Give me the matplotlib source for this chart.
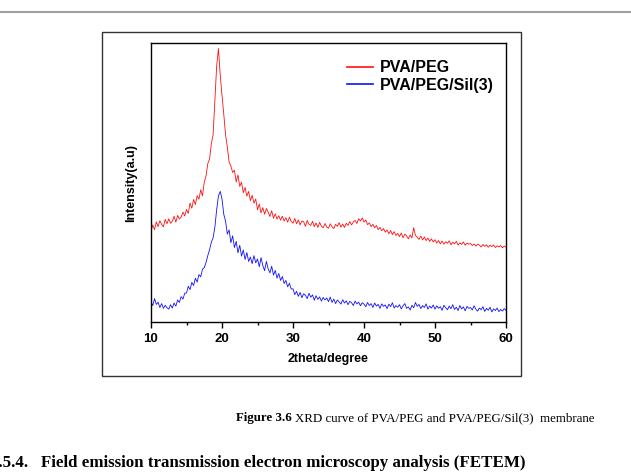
import numpy as np
import matplotlib
matplotlib.use("Agg")
import matplotlib.pyplot as plt
from matplotlib.patches import Rectangle
from matplotlib.lines import Line2D

# 2theta scan, 0.25 degree step
theta = np.arange(10.0, 60.001, 0.25)

pva_peg = [
    32.5, 34.8, 33.1, 35.9, 34.2, 36.3, 35.0, 34.1, 36.8, 35.2, 37.0, 35.4, 36.1, 37.9, 35.8, 38.2, 36.9, 37.6, 39.4, 38.0,
    40.3, 38.9, 42.6, 40.8, 43.9, 42.1, 45.3, 44.0, 47.4, 45.2, 50.1, 52.3, 56.8, 58.4, 63.9, 67.2, 79.5, 91.8, 98.0, 88.6,
    81.2, 74.5, 67.1, 62.8, 57.3, 55.9, 53.6, 54.4, 50.2, 52.7, 48.6, 50.1, 46.3, 48.2, 45.1, 46.8, 43.5, 45.4, 42.6, 44.1,
    40.2, 42.3, 39.1, 41.0, 38.6, 40.7, 39.4, 37.8, 39.9, 37.2, 38.8, 36.9, 38.1, 36.5, 37.9, 36.2, 37.4, 35.8, 37.6, 36.0,
    35.4, 37.1, 35.2, 36.6, 34.8, 36.2, 35.9, 34.3, 36.4, 35.0, 34.6, 36.1, 34.2, 35.5, 33.9, 35.7, 34.4, 33.8, 35.3, 34.0,
    33.6, 35.2, 34.1, 33.5, 35.0, 34.3, 35.6, 34.0, 35.1, 33.9, 35.4, 34.6, 36.0, 34.8, 35.9, 36.4, 35.3, 37.0, 36.2, 37.3,
    35.8, 36.6, 34.9, 35.5, 34.2, 35.0, 33.8, 34.6, 33.1, 33.9, 32.7, 33.5, 32.2, 33.0, 31.6, 32.8, 31.3, 32.4, 31.0, 31.8,
    30.6, 31.9, 30.2, 31.5, 30.9, 29.8, 31.2, 30.1, 33.8, 31.0, 30.4, 29.6, 30.8, 29.4, 30.5, 29.2, 30.1, 28.9, 29.8, 28.7,
    29.5, 28.3, 29.2, 28.0, 29.0, 27.9, 28.8, 28.2, 29.1, 27.7, 28.6, 28.0, 28.9, 27.6, 28.4, 27.8, 28.7, 27.5, 28.3, 27.9,
    28.2, 27.4, 28.0, 27.2, 27.9, 27.6, 26.9, 27.8, 27.1, 27.7, 26.8, 27.5, 27.0, 27.6, 26.7, 27.3, 26.9, 27.4, 26.6, 27.2, 26.8,
]

pva_peg_sil3 = [
    7.2, 5.9, 8.4, 6.3, 7.1, 5.2, 6.6, 4.9, 6.0, 5.1, 4.6, 6.2, 5.0, 6.8, 5.7, 7.9, 7.0, 9.1, 8.2, 10.3,
    10.4, 12.8, 11.6, 14.2, 13.1, 15.7, 14.3, 17.0, 16.2, 18.9, 19.5, 21.3, 23.8, 25.9, 28.6, 30.2, 34.1, 40.3, 45.2, 46.8,
    44.1, 38.6, 36.2, 31.5, 33.0, 28.4, 30.9, 26.7, 28.9, 24.8, 27.5, 23.6, 25.8, 22.4, 24.9, 21.7, 23.3, 20.9, 23.8, 21.2,
    22.6, 19.8, 23.1, 20.2, 18.4, 21.7, 19.1, 17.6, 20.0, 16.8, 18.5, 15.7, 17.4, 14.9, 16.3, 13.8, 14.9, 12.6, 13.9, 11.8,
    11.9, 9.8, 11.0, 9.2, 10.6, 8.7, 10.1, 9.6, 8.4, 10.3, 8.9, 9.7, 7.8, 9.4, 8.1, 9.0, 7.5, 8.8, 7.9, 8.6,
    7.3, 8.9, 7.0, 8.2, 6.6, 7.9, 7.2, 6.4, 8.0, 6.8, 7.6, 6.2, 7.4, 6.9, 5.9, 7.5, 6.5, 7.1, 5.8, 6.9,
    6.4, 5.5, 7.0, 5.9, 6.6, 5.2, 6.8, 5.7, 6.3, 4.9, 6.5, 5.6, 6.1, 4.8, 6.4, 5.5, 6.9, 5.0, 5.9, 5.3,
    6.2, 4.7, 5.8, 6.6, 4.9, 5.4, 4.3, 6.0, 5.1, 7.0, 5.6, 6.3, 4.8, 5.9, 5.2, 6.5, 4.6, 5.7, 5.0, 6.1,
    4.6, 5.8, 4.9, 5.5, 4.2, 6.0, 5.1, 4.4, 5.7, 4.8, 6.2, 4.5, 5.3, 4.1, 5.9, 4.7, 5.4, 4.0, 5.6, 4.9,
    5.2, 4.3, 5.8, 4.6, 3.9, 5.0, 4.4, 5.5, 3.8, 4.9, 4.2, 5.3, 3.6, 4.7, 4.1, 5.0, 3.7, 4.5, 3.9, 4.8, 4.2,
]

labels = ["PVA/PEG", "PVA/PEG/Sil(3)"]
xticks = [10, 20, 30, 40, 50, 60]

W, H = 631, 474
fig = plt.figure(figsize=(W / 100, H / 100), dpi=100)
fig.patch.set_facecolor("white")

# page decorations
fig.add_artist(Line2D([0, 1], [1 - 12 / H] * 2, color="#a0a0a0", lw=1.5))
fig.add_artist(Rectangle((102 / W, 1 - 376 / H), (521 - 102) / W, (376 - 32) / H,
                         fill=False, ec="#333333", lw=1.0))

ax = fig.add_axes([151 / W, 1 - 322 / H, (506 - 151) / W, (322 - 43) / H])
ax.plot(theta, pva_peg, color="#ff1010", lw=0.6, label=labels[0])
ax.plot(theta, pva_peg_sil3, color="#1010ff", lw=0.6, label=labels[1])

ax.set_xlim(10, 60)
ax.set_ylim(0, 100)
ax.set_yticks([])
ax.set_xticks(xticks)
ax.set_xticks([15, 25, 35, 45, 55], minor=True)
ax.tick_params(axis="x", which="major", direction="out", length=4, width=1, pad=4)
ax.tick_params(axis="x", which="minor", direction="out", length=2.5, width=1)
for t in ax.get_xticklabels():
    t.set_fontfamily("Liberation Sans")
    t.set_fontweight("bold")
    t.set_fontsize(9.5)
for s in ax.spines.values():
    s.set_linewidth(1.0)

ax.set_xlabel("2theta/degree", fontfamily="Liberation Sans", fontweight="bold", fontsize=9)
ax.xaxis.set_label_coords(0.5, -0.11)
ax.set_ylabel("Intensity(a.u)", fontfamily="Liberation Sans", fontweight="bold", fontsize=9)
ax.yaxis.set_label_coords(-0.039, 0.5)

leg = ax.legend(loc="upper left", bbox_to_anchor=(0.512, 0.99), frameon=False,
                handlelength=1.6, handletextpad=0.45, labelspacing=0.15,
                prop={"family": "Liberation Sans", "weight": "bold", "size": 11.5})
for h in leg.get_lines():
    h.set_linewidth(1.2)

# caption and heading
fig.canvas.draw()
r = fig.canvas.get_renderer()
t1 = fig.text(236 / W, 1 - 418 / H, "Figure 3.6", fontfamily="Liberation Serif",
              fontweight="bold", fontsize=9.3, va="center", ha="left")
bb = t1.get_window_extent(r)
fig.text(bb.x1 / W + 3 / W, 1 - 418 / H, "XRD curve of PVA/PEG and PVA/PEG/Sil(3)  membrane",
         fontfamily="Liberation Serif", fontsize=9.3, va="center", ha="left")
fig.text(-10 / W, 1 - 463 / H, "3.5.4.   Field emission transmission electron microscopy analysis (FETEM)",
         fontfamily="Liberation Serif", fontweight="bold", fontsize=12.2, va="center", ha="left")

fig.savefig("out.png", dpi=100)
